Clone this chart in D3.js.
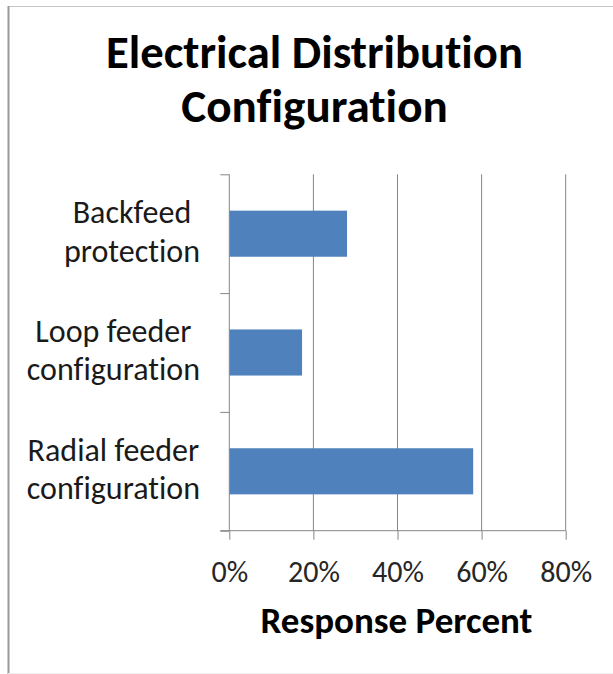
<!DOCTYPE html>
<html>
<head>
<meta charset="utf-8">
<script src="https://cdn.jsdelivr.net/npm/d3@7"></script>
<style>
  html, body { margin: 0; padding: 0; background: #fff; }
  svg { display: block; }
  text { font-family: Carlito, Calibri, Lato, "Open Sans", sans-serif; font-variant-ligatures: none; font-feature-settings: "liga" 0, "clig" 0; }
</style>
</head>
<body>
<svg id="chart" width="613" height="674"></svg>
<script>
// ---- data ----
const titleLines = ["Electrical Distribution", "Configuration"];
const categories = ["Backfeed protection", "Loop feeder configuration", "Radial feeder configuration"];
const categoryLines = [["Backfeed", "protection"], ["Loop feeder", "configuration"], ["Radial feeder", "configuration"]];
const values = [0.28, 0.173, 0.58];
const tickValues = [0, 0.2, 0.4, 0.6, 0.8];
const tickLabels = ["0%", "20%", "40%", "60%", "80%"];
const axisTitle = "Response Percent";

// ---- layout ----
const svg = d3.select("#chart");
const pL = 229.3, pR = 565.7, pT = 174.3, pB = 530.7;
const axisColor = "#868686";
const barColor = "#4F81BD";

// helper: fit font size to a target width
function fit(sel, target) {
  sel.style("font-size", "20px");
  const w = sel.node().getComputedTextLength();
  sel.style("font-size", (20 * target / w) + "px");
  return 20 * target / w;
}

// border
svg.append("line").attr("x1", 8).attr("x2", 613).attr("y1", 6.5).attr("y2", 6.5)
  .attr("stroke", "#c4c4c4").attr("stroke-width", 1);
svg.append("line").attr("x1", 8.5).attr("x2", 8.5).attr("y1", 6).attr("y2", 674)
  .attr("stroke", "#9a9a9a").attr("stroke-width", 2);
svg.append("line").attr("x1", 8).attr("x2", 613).attr("y1", 673.5).attr("y2", 673.5)
  .attr("stroke", "#eeeeee").attr("stroke-width", 1);

const x = d3.scaleLinear().domain([0, 0.8]).range([pL, pR]);
const y = d3.scaleBand().domain(categories).range([pT, pB])
  .paddingInner(0.612).paddingOuter(0.306);
const yEdge = d3.scaleLinear().domain([0, categories.length]).range([pT, pB]);

// gridlines
svg.append("g").selectAll("line").data(tickValues.slice(1)).join("line")
  .attr("x1", d => x(d)).attr("x2", d => x(d))
  .attr("y1", pT).attr("y2", pB)
  .attr("stroke", axisColor).attr("stroke-width", 1);

// bars
svg.append("g").selectAll("rect").data(values).join("rect")
  .attr("x", x(0))
  .attr("y", (d, i) => y(categories[i]))
  .attr("width", d => x(d) - x(0))
  .attr("height", y.bandwidth())
  .attr("fill", barColor);

// y axis (ticks at category boundaries)
const yAxis = svg.append("g").attr("transform", `translate(${pL},0)`)
  .call(d3.axisLeft(yEdge).tickValues(d3.range(categories.length + 1)).tickSize(9).tickFormat(""));
yAxis.select(".domain").attr("stroke", axisColor).attr("d", `M0,${pT}V${pB}`);
yAxis.selectAll(".tick line").attr("stroke", axisColor);

// x axis
const xAxis = svg.append("g").attr("transform", `translate(0,${pB})`)
  .call(d3.axisBottom(x).tickValues(tickValues).tickSize(9).tickFormat((d, i) => tickLabels[i]));
xAxis.select(".domain").attr("stroke", axisColor).attr("d", `M${pL - 9},0H${pR}`);
xAxis.selectAll(".tick line").attr("stroke", axisColor);
xAxis.attr("font-family", null).attr("font-size", null);
xAxis.selectAll(".tick text").attr("y", 581.7 - pB).attr("dy", null)
  .attr("fill", "#262626");
{
  const t0 = xAxis.select(".tick text");
  const fs = fit(t0, 36.7);
  xAxis.selectAll(".tick text").style("font-size", fs + "px");
}

// category labels
const catG = svg.append("g");
const catTexts = [];
categoryLines.forEach((lines, i) => {
  const cy = y(categories[i]) + y.bandwidth() / 2;
  lines.forEach((ln, j) => {
    const t = catG.append("text").text(ln)
      .attr("y", cy - 10.4 + j * 38.3)
      .attr("text-anchor", "middle")
      .attr("fill", "#1a1a1a");
    catTexts.push({ t, i });
  });
});
{
  const ref = catTexts.find(o => o.t.text() === "configuration").t;
  const fs = fit(ref, 173.3);
  catTexts.forEach(o => o.t.style("font-size", fs + "px"));
  categoryLines.forEach((lines, i) => {
    const ts = catTexts.filter(o => o.i === i).map(o => o.t);
    const maxW = d3.max(ts, t => t.node().getComputedTextLength());
    ts.forEach(t => t.attr("x", 200 - maxW / 2));
  });
}

// title
const titleTargets = [417, 266.7];
const titleBase = [67.7, 121.7];
titleLines.forEach((ln, i) => {
  const t = svg.append("text").text(ln)
    .attr("x", 314.5).attr("y", titleBase[i])
    .attr("text-anchor", "middle")
    .attr("font-weight", "bold").attr("fill", "#000");
  fit(t, titleTargets[i]);
});

// axis title
const at = svg.append("text").text(axisTitle)
  .attr("x", (pL + pR) / 2 - 1).attr("y", 633.3)
  .attr("text-anchor", "middle")
  .attr("font-weight", "bold").attr("fill", "#000");
fit(at, 272);
</script>
</body>
</html>
